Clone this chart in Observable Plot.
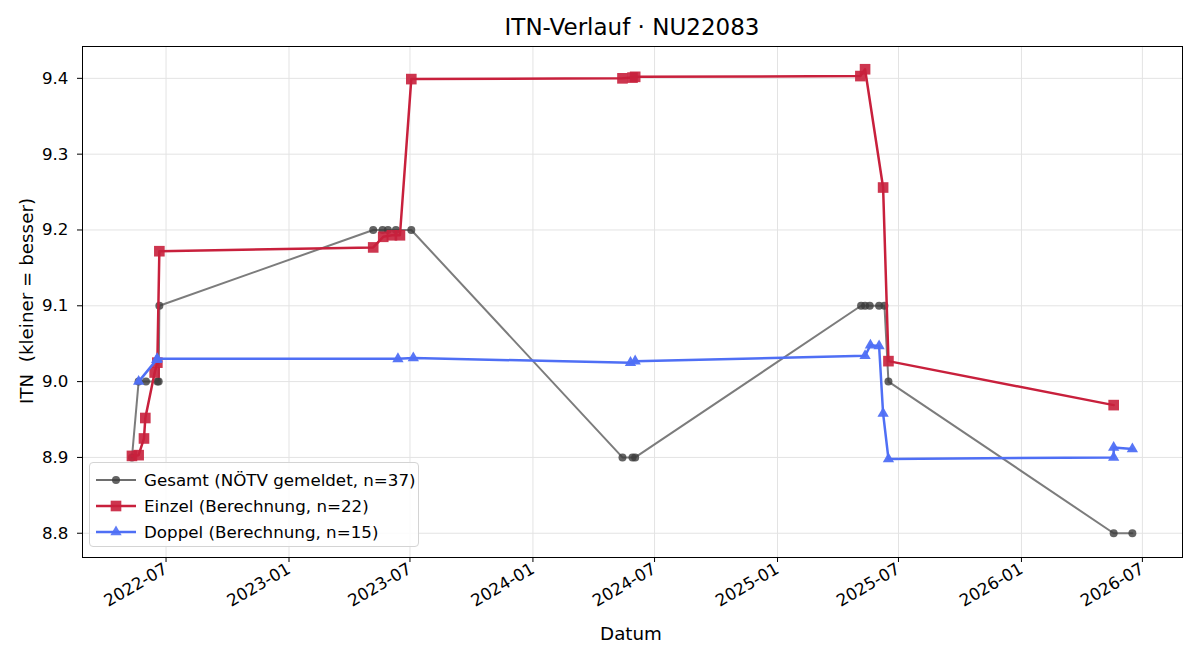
<!DOCTYPE html>
<html><head><meta charset="utf-8">
<script src="https://cdn.jsdelivr.net/npm/d3@7"></script>
<script src="https://cdn.jsdelivr.net/npm/@observablehq/plot@0.6"></script>
<style>
body{margin:0;background:#fff;font-family:"DejaVu Sans",sans-serif;color:#000;}
#wrap{position:relative;width:1200px;height:660px;overflow:hidden;}
#title{position:absolute;left:0;width:1264px;top:14px;text-align:center;font-size:23px;line-height:normal;}
#chart{position:absolute;left:0;top:40px;}
#ylab{position:absolute;left:26px;top:301px;transform:translate(-50%,-50%) rotate(-90deg);font-size:18.3px;white-space:pre;}
#xlab{position:absolute;left:631px;top:633px;transform:translate(-50%,-50%);font-size:18.3px;}
#legend{position:absolute;left:89px;top:462px;width:330px;height:85px;border:1px solid #d4d4d4;border-radius:4px;background:rgba(255,255,255,0.85);box-sizing:border-box;padding-top:4px;}
.row{height:26px;display:flex;align-items:center;font-size:16.7px;white-space:pre;}
.row svg{margin-left:6px;margin-right:8px;}
#chart svg text{font-family:"DejaVu Sans",sans-serif;}
</style></head>
<body><div id="wrap">
<div id="title">ITN-Verlauf · NU22083</div>
<div id="chart"></div>
<div id="ylab">ITN  (kleiner = besser)</div>
<div id="xlab">Datum</div>
<div id="legend"></div>
</div>
<script>
const gesamtDates = ["2022-05-11","2022-05-21","2022-06-01","2022-06-18","2022-06-20","2022-06-21","2023-05-07","2023-05-21","2023-05-29","2023-06-10","2023-07-03","2024-05-14","2024-05-29","2024-06-02","2025-05-06","2025-05-12","2025-05-19","2025-06-02","2025-06-10","2025-06-16","2026-05-19","2026-06-16"];
const gesamtVals  = [8.9,9.0,9.0,9.0,9.0,9.1,9.2,9.2,9.2,9.2,9.2,8.9,8.9,8.9,9.1,9.1,9.1,9.1,9.1,9.0,8.8,8.8];

const einzelDates = ["2022-05-11","2022-05-21","2022-05-29","2022-05-31","2022-06-14","2022-06-18","2022-06-21","2023-05-07","2023-05-22","2023-06-04","2023-06-16","2023-07-03","2024-05-14","2024-05-29","2024-06-02","2025-05-05","2025-05-12","2025-06-08","2025-06-16","2026-05-19"];
const einzelVals  = [8.902,8.903,8.925,8.952,9.012,9.025,9.172,9.177,9.191,9.193,9.193,9.399,9.400,9.401,9.402,9.403,9.412,9.256,9.027,8.969];

const doppelDates = ["2022-05-21","2022-06-17","2022-06-18","2023-06-13","2023-07-06","2024-05-26","2024-06-02","2025-05-12","2025-05-20","2025-06-02","2025-06-08","2025-06-16","2026-05-19","2026-05-19","2026-06-16"];
const doppelVals  = [9.0,9.029,9.03,9.03,9.031,9.025,9.027,9.034,9.048,9.047,8.958,8.898,8.900,8.913,8.911];

const xTickLabels = ["2022-07","2023-01","2023-07","2024-01","2024-07","2025-01","2025-07","2026-01","2026-07"];
const yTicks = [8.8,8.9,9.0,9.1,9.2,9.3,9.4];

const seriesNames = ["Gesamt (NÖTV gemeldet, n=37)","Einzel (Berechnung, n=22)","Doppel (Berechnung, n=15)"];
const seriesColors = ["#6e6e6e","#c8203c","#4f6ff5"];

const parse = d3.utcParse("%Y-%m-%d");
const mk = (ds, vs) => ds.map((d,i)=>({date:parse(d), v:vs[i]}));
const gesamt = mk(gesamtDates, gesamtVals);
const einzel = mk(einzelDates, einzelVals);
const doppel = mk(doppelDates, doppelVals);
const xTicks = xTickLabels.map(s => d3.utcParse("%Y-%m")(s));

const chart = Plot.plot({
  width: 1200, height: 620,
  marginTop: 6, marginBottom: 103, marginLeft: 82, marginRight: 18,
  style: {fontFamily: '"DejaVu Sans", sans-serif', fontSize: "16.7px", color: "#000", background: "#fff"},
  x: {type: "utc", domain: [parse("2022-02-26"), parse("2026-08-30")]},
  y: {domain: [8.768, 9.442]},
  marks: [
    Plot.gridX(xTicks, {stroke: "#e3e3e3", strokeOpacity: 1}),
    Plot.gridY(yTicks, {stroke: "#e3e3e3", strokeOpacity: 1}),
    Plot.line(gesamt, {x: "date", y: "v", stroke: seriesColors[0], strokeWidth: 2, strokeOpacity: 0.9}),
    Plot.dot(gesamt, {x: "date", y: "v", r: 4, fill: "#3c3c3c", fillOpacity: 0.8, symbol: "circle"}),
    Plot.line(einzel, {x: "date", y: "v", stroke: seriesColors[1], strokeWidth: 2.5}),
    Plot.dot(einzel, {x: "date", y: "v", r: 6, fill: seriesColors[1], fillOpacity: 0.9, symbol: "square"}),
    Plot.line(doppel, {x: "date", y: "v", stroke: seriesColors[2], strokeWidth: 2.5}),
    Plot.dot(doppel, {x: "date", y: "v", r: 4.2, fill: seriesColors[2], fillOpacity: 0.95, symbol: "triangle"}),
    Plot.frame({stroke: "#000", strokeWidth: 1}),
    Plot.axisX({ticks: xTicks, tickFormat: d3.utcFormat("%Y-%m"), tickSize: 5, tickPadding: 5, tickRotate: -30, textAnchor: "end", label: null, fontSize: 16.7}),
    Plot.axisY({ticks: yTicks, tickFormat: d3.format(".1f"), tickSize: 5, tickPadding: 9, label: null, fontSize: 16.7})
  ]
});
document.getElementById("chart").appendChild(chart);

// legend
const symbols = ["circle","square","triangle"];
const lg = document.getElementById("legend");
seriesNames.forEach((name, i) => {
  const row = document.createElement("div");
  row.className = "row";
  const ns = "http://www.w3.org/2000/svg";
  const s = document.createElementNS(ns, "svg");
  s.setAttribute("width", 40); s.setAttribute("height", 16);
  const l = document.createElementNS(ns, "line");
  l.setAttribute("x1", 0); l.setAttribute("x2", 40); l.setAttribute("y1", 8); l.setAttribute("y2", 8);
  l.setAttribute("stroke", seriesColors[i]); l.setAttribute("stroke-width", i === 0 ? 2 : 2.5);
  s.appendChild(l);
  const p = document.createElementNS(ns, "path");
  const sym = {circle: d3.symbolCircle, square: d3.symbolSquare, triangle: d3.symbolTriangle}[symbols[i]];
  const r = [4, 6, 4.2][i];
  p.setAttribute("d", d3.symbol(sym, r * r * Math.PI)());
  p.setAttribute("transform", "translate(20,8)");
  p.setAttribute("fill", i === 0 ? "#3c3c3c" : seriesColors[i]);
  p.setAttribute("fill-opacity", i === 0 ? 0.8 : 0.9);
  s.appendChild(p);
  row.appendChild(s);
  row.appendChild(document.createTextNode(name));
  lg.appendChild(row);
});
</script>
</body></html>
